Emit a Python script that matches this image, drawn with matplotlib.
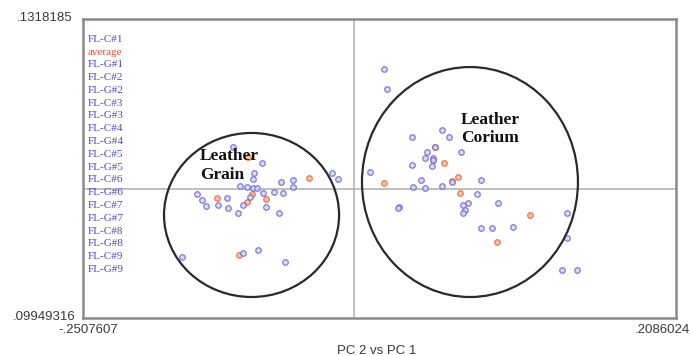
import matplotlib.pyplot as plt
from matplotlib.patches import Ellipse

# axis range shown on the chart
x_min, x_max = -0.2507607, 0.2086024
y_min, y_max = -0.09949316, 0.1318185

# sample labels listed down the left side
sample_labels = ["FL-C#1", "average", "FL-G#1", "FL-C#2", "FL-G#2", "FL-C#3",
                 "FL-G#3", "FL-C#4", "FL-G#4", "FL-C#5", "FL-G#5", "FL-C#6",
                 "FL-G#6", "FL-C#7", "FL-G#7", "FL-C#8", "FL-G#8", "FL-C#9",
                 "FL-G#9"]

# grain samples (blue) and their averages (orange)
grain_x = [-0.1343, -0.1123, -0.1183, -0.1193, -0.1292, -0.1240, -0.1189,
           -0.1162, -0.0974, -0.0879, -0.0883, -0.1028, -0.0956, -0.1116,
           -0.0581, -0.0535, -0.1627, -0.1584, -0.1555, -0.1460, -0.1395,
           -0.1387, -0.1305, -0.1271, -0.1214, -0.1090, -0.0987, -0.1266,
           -0.1150, -0.0943, -0.1743]
grain_y = [0.0326, 0.0206, 0.0124, 0.0078, 0.0026, 0.0016, 0.0008,
           0.0008, 0.0059, 0.0073, 0.0016, -0.0018, -0.0030, -0.0030,
           0.0129, 0.0078, -0.0036, -0.0082, -0.0128, -0.0121, -0.0069,
           -0.0146, -0.0180, -0.0121, -0.0061, -0.0139, -0.0180, -0.0494,
           -0.0469, -0.0559, -0.0521]
grain_avg_x = [-0.0755, -0.1201, -0.1240, -0.1090, -0.1467, -0.1297, -0.1227]
grain_avg_y = [0.0086, -0.0036, -0.0095, -0.0074, -0.0069, -0.0508, 0.0253]

# corium samples (blue) and their averages (orange)
corium_x = [-0.0174, -0.0151, 0.0276, 0.0325, 0.0039, 0.0420, 0.0155,
            0.0142, 0.0201, 0.0039, 0.0193, -0.0285, 0.0111, 0.0051,
            0.0142, 0.0276, 0.0348, 0.0575, 0.0547, -0.0057, -0.0070,
            0.0438, 0.0477, 0.0451, 0.0438, 0.0705, 0.0573, 0.0663,
            0.0821, 0.1244, 0.1244, 0.1203, 0.1317, 0.0219, 0.0206]
corium_y = [0.0929, 0.0777, 0.0460, 0.0408, 0.0408, 0.0292, 0.0292,
            0.0241, 0.0241, 0.0189, 0.0183, 0.0132, 0.0073, 0.0016,
            0.0008, 0.0026, 0.0055, 0.0073, -0.0033, -0.0134, -0.0146,
            -0.0121, -0.0108, -0.0159, -0.0185, -0.0108, -0.0301, -0.0301,
            -0.0289, -0.0185, -0.0378, -0.0624, -0.0624, 0.0326, 0.0227]
corium_avg_x = [0.0219, 0.0206, 0.0289, -0.0176, 0.0395, 0.0348, 0.0413,
                0.0955, 0.0697]
corium_avg_y = [0.0326, 0.0227, 0.0202, 0.0047, 0.0098, 0.0067, -0.0030,
                -0.0198, -0.0405]

blue = "#6a6ad0"
orange = "#f07848"

fig = plt.figure(figsize=(6.91, 3.56), dpi=100)
ax = fig.add_axes([83 / 691, 1 - 318 / 356, 593 / 691, 299 / 356])
ax.set_xlim(x_min, x_max)
ax.set_ylim(y_min, y_max)
ax.set_xticks([])
ax.set_yticks([])
for s in ax.spines.values():
    s.set_color("#8a8a8a")
    s.set_linewidth(1.8)

# cross lines
ax.axhline(0, color="#b4b4b4", lw=1.2, zorder=1)
ax.axvline(-0.041, color="#b4b4b4", lw=1.2, zorder=1)

# points
ax.plot(grain_avg_x + corium_avg_x, grain_avg_y + corium_avg_y, "o", ms=4,
        mfc="#f8c4b0", mec=orange, mew=0.9, zorder=3)
ax.plot(grain_x + corium_x, grain_y + corium_y, "o", ms=4,
        mfc="#d4d4f4", mec=blue, mew=0.9, alpha=0.85, zorder=4)

# group circles
ax.add_patch(Ellipse((-0.1202, -0.0198), 0.1356, 0.1269, fill=False,
                     ec="#2a2a2a", lw=1.6, zorder=5))
ax.add_patch(Ellipse((0.0490, 0.0057), 0.1673, 0.1779, fill=False,
                     ec="#2a2a2a", lw=1.6, zorder=5))

# group names
fig.text(200 / 691, 1 - 166 / 356, "Leather\nGrain", fontsize=12.5,
         fontweight="bold", family="Liberation Serif", color="#111111",
         ha="left", va="center", multialignment="left", linespacing=1.25,
         zorder=6)
fig.text(461 / 691, 1 - 129 / 356, "Leather\nCorium", fontsize=12.5,
         fontweight="bold", family="Liberation Serif", color="#111111",
         ha="left", va="center", multialignment="left", linespacing=1.2,
         zorder=6)

# label list on the left
for i, lab in enumerate(sample_labels):
    c = "#e8503a" if lab == "average" else "#4848c0"
    fig.text(88 / 691, 1 - (39.3 + i * 12.78) / 356, lab, fontsize=8,
             family="Liberation Serif", color=c, ha="left", va="center")

# axis range labels
tk = dict(fontsize=9.5, family="Liberation Sans", color="#3a3a3a")
fig.text(72 / 691, 1 - 18 / 356, ".1318185", ha="right", va="center", **tk)
fig.text(75 / 691, 1 - 317 / 356, ".09949316", ha="right", va="center", **tk)
fig.text(88 / 691, 1 - 330 / 356, "-.2507607", ha="center", va="center", **tk)
fig.text(690 / 691, 1 - 330 / 356, ".2086024", ha="right", va="center", **tk)
fig.text(377 / 691, 1 - 351 / 356, "PC 2 vs PC 1", ha="center", va="center",
         **tk)

fig.savefig("out.png", dpi=100)
